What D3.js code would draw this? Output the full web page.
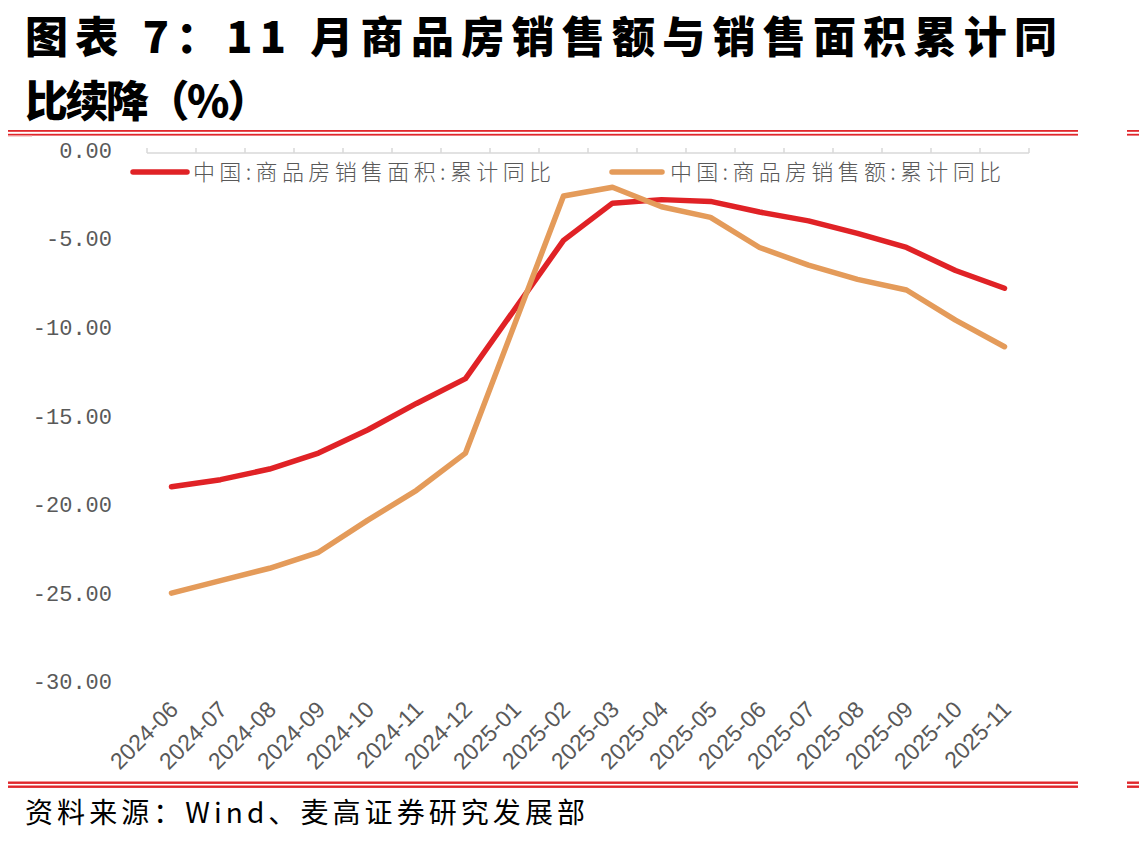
<!DOCTYPE html>
<html><head><meta charset="utf-8">
<script src="https://cdn.jsdelivr.net/npm/d3@7"></script>
<style>
html,body{margin:0;padding:0;background:#fff;}
svg{display:block;}
</style></head>
<body>
<svg id="chart" width="1139" height="844"></svg>
<script>
const titleLines = ["图表 7：11 月商品房销售额与销售面积累计同", "比续降（%）"];
const sourceText = "资料来源：Wind、麦高证券研究发展部";
const categories = ["2024-06","2024-07","2024-08","2024-09","2024-10","2024-11","2024-12","2025-01","2025-02","2025-03","2025-04","2025-05","2025-06","2025-07","2025-08","2025-09","2025-10","2025-11"];
const areaYoY  = [-19.0,-18.6,-18.0,-17.1,-15.8,-14.3,-12.9,null,-5.1,-3.0,-2.8,-2.9,-3.5,-4.0,-4.7,-5.5,-6.8,-7.8];
const salesYoY = [-25.0,-24.3,-23.6,-22.7,-20.9,-19.2,-17.1,null,-2.6,-2.1,-3.2,-3.8,-5.5,-6.5,-7.3,-7.9,-9.6,-11.1];
const seriesNames = ["中国:商品房销售面积:累计同比","中国:商品房销售额:累计同比"];
const seriesColors = ["#E02226","#E49B5A"];
const yTicks = [0,-5,-10,-15,-20,-25,-30];

const svg = d3.select("#chart");

// title
const title = svg.append("g");
title.append("text").attr("x",25).attr("y",53)
  .attr("font-family","'Noto Sans CJK SC'").attr("font-weight",900).attr("font-size",43)
  .attr("textLength",1032).attr("lengthAdjust","spacing").attr("fill","#000")
  .text(titleLines[0]);
title.append("text").attr("x",25).attr("y",117)
  .attr("font-family","'Noto Sans CJK SC'").attr("font-weight",900).attr("font-size",43)
  .attr("textLength",245).attr("lengthAdjust","spacing").attr("fill","#000")
  .text(titleLines[1]);

// double red rules
function rules(y1, y2, th){
  [[8,1078],[1127,1139]].forEach(([a,b])=>{
    svg.append("rect").attr("x",a).attr("y",y1).attr("width",b-a).attr("height",th).attr("fill","#E0262B");
    svg.append("rect").attr("x",a).attr("y",y2).attr("width",b-a).attr("height",th).attr("fill","#E0262B");
  });
}
rules(130, 133.8, 1.8);
svg.append("rect").attr("x",8).attr("y",135.6).attr("width",24).attr("height",1).attr("fill","#F3B5B5");
rules(781.5, 785.5, 2.4);

// scales
const x = d3.scaleBand().domain(categories).range([147,1029]).padding(0);
const y = d3.scaleLinear().domain([-30,0]).range([681.7,150]);
const cx = c => x(c) + x.bandwidth()/2;

// y labels
svg.append("g").selectAll("text").data(yTicks).join("text")
  .attr("x",112).attr("y",d=>y(d)).attr("dy","0.35em")
  .attr("text-anchor","end")
  .attr("font-family","'Liberation Mono', 'DejaVu Sans Mono', monospace")
  .attr("font-size",22).attr("fill","#595959")
  .text(d=>d3.format(".2f")(d).replace("−","-"));

// category axis at zero line
const axisY = y(0) + 3;
const axisG = svg.append("g").attr("transform",`translate(0,${axisY})`);
const axis = d3.axisTop(x).tickSize(0).tickFormat("");
axisG.call(axis);
axisG.select(".domain").attr("stroke","#D9D9D9").attr("stroke-width",1.5).attr("d",`M${x.range()[0]},0H${x.range()[1]}`);
const bounds = categories.map(c=>x(c)).concat([x.range()[1]]);
axisG.selectAll("line.tk").data(bounds).join("line").attr("class","tk")
  .attr("x1",d=>d).attr("x2",d=>d).attr("y1",0).attr("y2",-5)
  .attr("stroke","#D9D9D9").attr("stroke-width",1.5);

// x labels
svg.append("g").selectAll("text").data(categories).join("text")
  .attr("transform",c=>`translate(${cx(c)+8},711) rotate(-45)`)
  .attr("text-anchor","end")
  .attr("font-family","'Liberation Sans', Arial, sans-serif")
  .attr("font-size",23).attr("fill","#595959")
  .text(c=>c);

// lines
const line = d3.line().x(d=>cx(d.c)).y(d=>y(d.v));
[areaYoY, salesYoY].forEach((vals,i)=>{
  const pts = categories.map((c,j)=>({c, v:vals[j]})).filter(d=>d.v!==null);
  svg.append("path").datum(pts).attr("d",line)
    .attr("fill","none").attr("stroke",seriesColors[i]).attr("stroke-width",5.5)
    .attr("stroke-linejoin","round").attr("stroke-linecap","round");
});

// legend
const legendItems = [
  {x1:133,x2:187,tx:193,tl:358},
  {x1:612,x2:662,tx:670,tl:331}
];
legendItems.forEach((L,i)=>{
  svg.append("line").attr("x1",L.x1).attr("x2",L.x2).attr("y1",172).attr("y2",172)
    .attr("stroke",seriesColors[i]).attr("stroke-width",5.5).attr("stroke-linecap","round");
  svg.append("text").attr("x",L.tx).attr("y",172).attr("dy","0.36em")
    .attr("font-family","'Noto Sans CJK SC'").attr("font-weight",300).attr("font-size",22).attr("fill","#595959")
    .attr("textLength",L.tl).attr("lengthAdjust","spacing")
    .text(seriesNames[i]);
});

// source
svg.append("text").attr("x",25).attr("y",813).attr("dy","0.36em")
  .attr("font-family","'Noto Sans CJK SC'").attr("font-size",28).attr("fill","#000")
  .attr("textLength",560).attr("lengthAdjust","spacing")
  .text(sourceText);
</script>
</body></html>
